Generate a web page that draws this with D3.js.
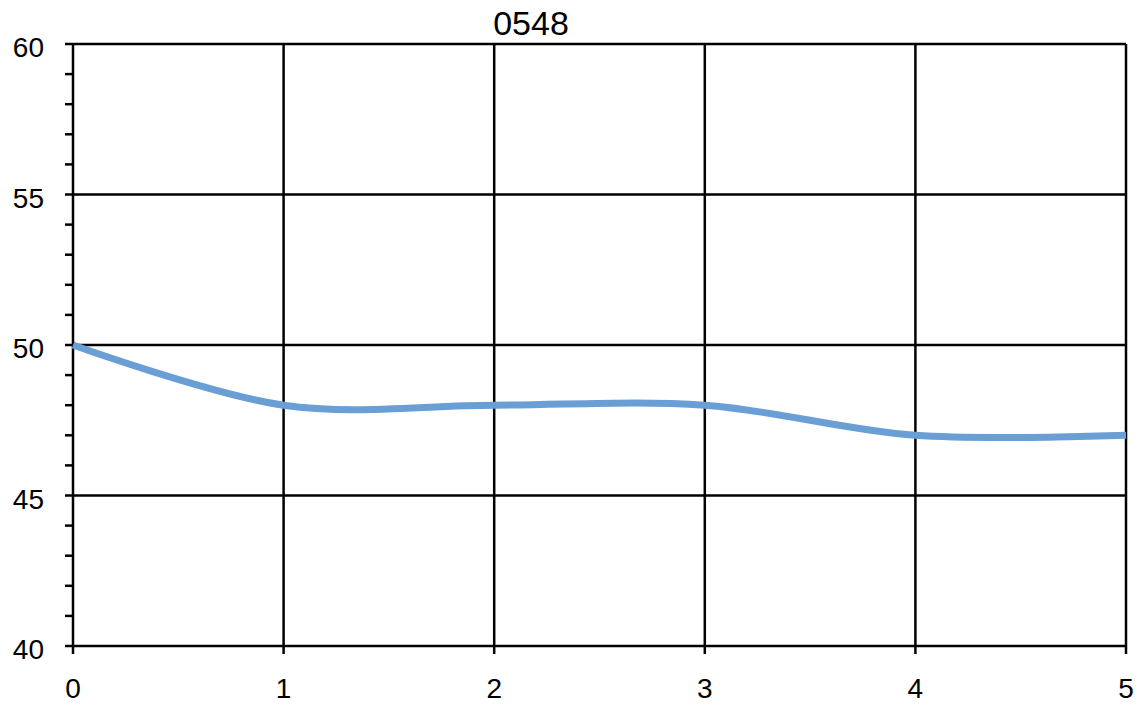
<!DOCTYPE html>
<html><head><meta charset="utf-8">
<script src="https://cdn.jsdelivr.net/npm/d3@7"></script>
<style>body{margin:0;background:#fff}svg{display:block}text{font-family:"Liberation Sans",Arial,sans-serif;fill:#000}</style>
</head><body><svg id="c" width="1143" height="705"></svg>
<script>
const title = "0548";
const xValues = [0, 1, 2, 3, 4, 5];
const yValues = [50, 48, 48, 48, 47, 47];
const yMajorTicks = [40, 45, 50, 55, 60];
const yMinorTicks = d3.range(40, 61, 1);
const xTicks = [0, 1, 2, 3, 4, 5];

const svg = d3.select("#c");
const L = 73, R = 1126, T = 44, B = 646;
const x = d3.scaleLinear().domain([0, 5]).range([L, R]);
const y = d3.scaleLinear().domain([40, 60]).range([B, T]);

// gridlines
svg.append("g").selectAll("line").data(yMajorTicks).join("line")
  .attr("x1", L).attr("x2", R).attr("y1", d => y(d)).attr("y2", d => y(d))
  .attr("stroke", "#000").attr("stroke-width", 2.5);
svg.append("g").selectAll("line").data(xTicks).join("line")
  .attr("x1", d => x(d)).attr("x2", d => x(d)).attr("y1", T).attr("y2", B)
  .attr("stroke", "#000").attr("stroke-width", 2.5);

// left axis minor ticks
svg.append("g").selectAll("line").data(yMinorTicks).join("line")
  .attr("x1", L - 8).attr("x2", L).attr("y1", d => y(d)).attr("y2", d => y(d))
  .attr("stroke", "#000").attr("stroke-width", 2.5);
// bottom ticks
svg.append("g").selectAll("line").data(xTicks).join("line")
  .attr("x1", d => x(d)).attr("x2", d => x(d)).attr("y1", B).attr("y2", B + 8)
  .attr("stroke", "#000").attr("stroke-width", 2.5);

// labels
svg.append("g").selectAll("text").data(yMajorTicks).join("text")
  .attr("x", 44).attr("y", d => y(d) + 13).attr("text-anchor", "end")
  .attr("font-size", 28).text(d => d);
svg.append("g").selectAll("text").data(xTicks).join("text")
  .attr("x", d => x(d)).attr("y", 698).attr("text-anchor", "middle")
  .attr("font-size", 28).text(d => d);

// line
const line = d3.line().x((d, i) => x(xValues[i])).y(d => y(d)).curve(d3.curveCardinal.tension(0));
svg.append("path").datum(yValues).attr("d", line)
  .attr("fill", "none").attr("stroke", "#6a9fd6").attr("stroke-width", 7).attr("stroke-linecap", "butt");

svg.append("text").attr("x", 531).attr("y", 35).attr("text-anchor", "middle")
  .attr("font-size", 34).text(title);
</script></body></html>
